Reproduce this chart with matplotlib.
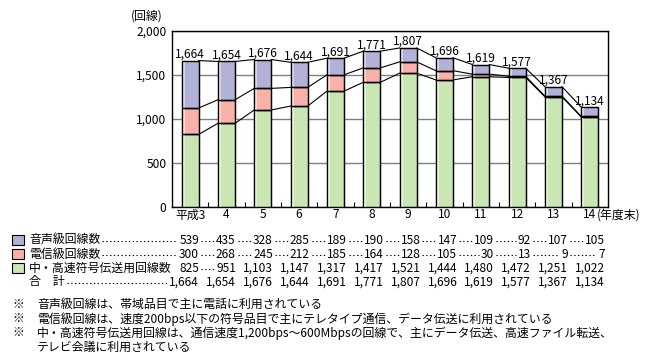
import numpy as np
import matplotlib
matplotlib.use('Agg')
import matplotlib.pyplot as plt
from matplotlib.lines import Line2D
from matplotlib.patches import Rectangle

plt.rcParams['font.family'] = ['Noto Sans CJK JP', 'DejaVu Sans']

years = ['平成3', '4', '5', '6', '7', '8', '9', '10', '11', '12', '13', '14']
voice = [539, 435, 328, 285, 189, 190, 158, 147, 109, 92, 107, 105]
telegraph = [300, 268, 245, 212, 185, 164, 128, 105, 30, 13, 9, 7]
highspeed = [825, 951, 1103, 1147, 1317, 1417, 1521, 1444, 1480, 1472, 1251, 1022]
total = [1664, 1654, 1676, 1644, 1691, 1771, 1807, 1696, 1619, 1577, 1367, 1134]

row_names = ['音声級回線数', '電信級回線数', '中・高速符号伝送用回線数', '合　計']
notes = ['音声級回線は、帯域品目で主に電話に利用されている',
         '電信級回線は、速度200bps以下の符号品目で主にテレタイプ通信、データ伝送に利用されている',
         '中・高速符号伝送用回線は、通信速度1,200bps～600Mbpsの回線で、主にデータ伝送、高速ファイル転送、',
         'テレビ会議に利用されている']

c_voice = '#B2B2D8'
c_tele = '#F8B2AA'
c_high = '#CAE6B2'
light = {c_voice: '#D6D6EC', c_tele: '#FCD6D0', c_high: '#E4F2D6'}

W, H = 655, 362
FS = 8.6

fig = plt.figure(figsize=(W / 100, H / 100), dpi=100)


def px(x, y):
    return x / W, 1 - y / H


ax = fig.add_axes([172 / W, 1 - 207 / H, (608 - 172) / W, (207 - 31) / H])

x = np.arange(len(years))
bw = 0.47
lv1 = np.array(highspeed)
lv2 = lv1 + np.array(telegraph)
lv3 = lv2 + np.array(voice)

for vals, bot, col in [(highspeed, None, c_high), (telegraph, lv1, c_tele), (voice, lv2, c_voice)]:
    ax.bar(x, vals, bw, bottom=bot, color=col, edgecolor='black', linewidth=0.9, zorder=3)
    # lighter strip on the left of each bar
    ax.bar(x - bw / 2 + 0.05, vals, 0.07, bottom=bot, color=light[col], linewidth=0, zorder=3.5)
# redraw outlines over highlight
for vals, bot in [(highspeed, None), (telegraph, lv1), (voice, lv2)]:
    ax.bar(x, vals, bw, bottom=bot, fill=False, edgecolor='black', linewidth=0.9, zorder=4)

for lv in [lv1, lv2, lv3]:
    for i in range(len(x) - 1):
        ax.plot([x[i] + bw / 2, x[i + 1] - bw / 2], [lv[i], lv[i + 1]], color='black', lw=0.8, zorder=2)

for i, t in enumerate(total):
    ax.annotate(f'{t:,}', (x[i], t), xytext=(0, 0), textcoords='offset points',
                ha='center', va='bottom', fontsize=FS, zorder=5)

ax.set_xlim(-0.5, 11.5)
ax.set_ylim(0, 2000)
ax.set_yticks([0, 500, 1000, 1500, 2000])
ax.set_yticklabels([f'{v:,}' for v in [0, 500, 1000, 1500, 2000]], fontsize=FS)
ax.yaxis.grid(True, color='#808080', lw=1)
ax.set_axisbelow(True)
ax.tick_params(axis='y', length=0, pad=4)
ax.set_xticks(x)
ax.set_xticklabels(years[:-1] + ['14'], fontsize=FS)
ax.set_xticks(np.arange(0.5, 11.5, 1), minor=True)
ax.tick_params(axis='x', which='major', length=0, pad=1)
ax.tick_params(axis='x', which='minor', direction='in', length=3.5, width=0.8)
for s in ax.spines.values():
    s.set_linewidth(1)
ax.annotate('(年度末)', (x[-1], 0), xytext=(7, -2), textcoords='offset pixels',
            ha='left', va='top', fontsize=FS, annotation_clip=False)
fig.text(*px(131, 16), '(回線)', fontsize=FS, va='center', ha='left')

# data table
row_y = [240, 254, 268, 282]
col_right = np.linspace(199, 605, 12)
table_vals = [voice, telegraph, highspeed, total]
colors = [c_voice, c_tele, c_high, None]
renderer = fig.canvas.get_renderer()


def leader(x0, x1, y):
    if x1 - x0 < 5:
        return
    fig.add_artist(Line2D([x0 / W, x1 / W], [1 - y / H, 1 - y / H], color='black', lw=0.8,
                          linestyle=(0, (1.2, 2.2))))


for r in range(4):
    y = row_y[r]
    if colors[r]:
        fig.add_artist(Rectangle(px(12, y + 5), 12 / W, 10 / H, facecolor=colors[r],
                                 edgecolor='black', lw=0.8, transform=fig.transFigure))
    lab = fig.text(*px(29, y), row_names[r], fontsize=FS, va='center', ha='left')
    prev = lab.get_window_extent(renderer).x1 + 2
    for j, v in enumerate(table_vals[r]):
        t = fig.text(*px(col_right[j], y), f'{v:,}', fontsize=FS, va='center', ha='right')
        bb = t.get_window_extent(renderer)
        leader(prev, bb.x0 - 2, y + 1)
        prev = bb.x1 + 2

note_y = [305, 319, 333, 347]
for k, n in enumerate(notes):
    if k < 3:
        fig.text(*px(12, note_y[k]), '※', fontsize=FS, va='center', ha='left')
    fig.text(*px(37, note_y[k]), n, fontsize=FS, va='center', ha='left')

fig.savefig('out.png', dpi=100)
